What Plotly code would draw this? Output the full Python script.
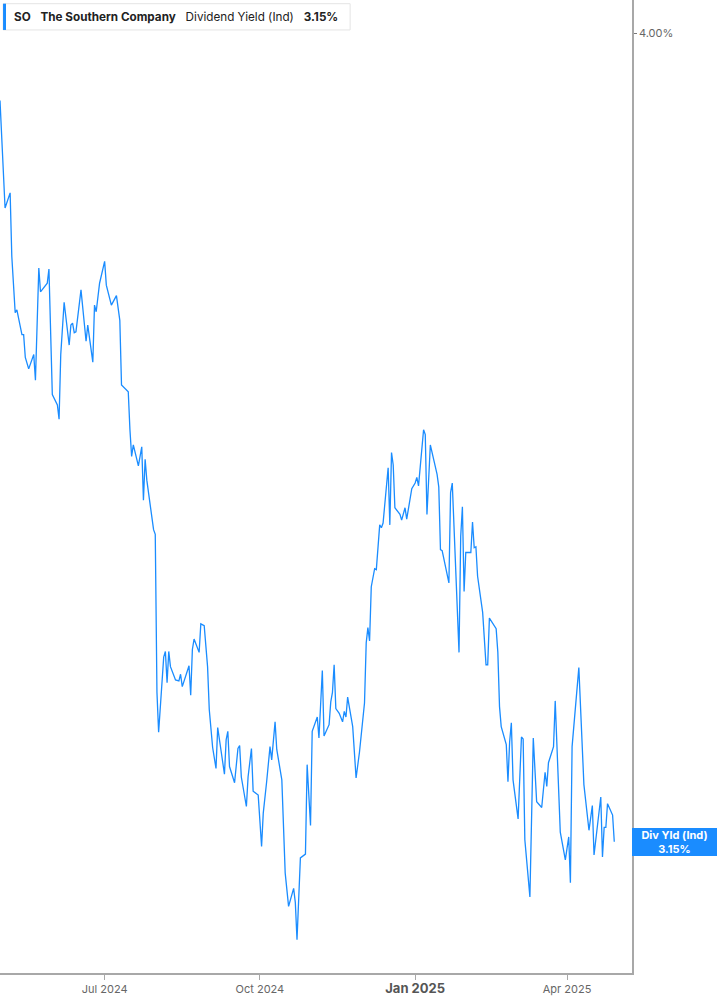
import plotly.graph_objects as go

dates = [
    "2024-04-30", "2024-05-03", "2024-05-06", "2024-05-07", "2024-05-09", "2024-05-10",
    "2024-05-13", "2024-05-14", "2024-05-15", "2024-05-17", "2024-05-20", "2024-05-21",
    "2024-05-23", "2024-05-24", "2024-05-28", "2024-05-29", "2024-05-31", "2024-06-03",
    "2024-06-04", "2024-06-05", "2024-06-07", "2024-06-10", "2024-06-11", "2024-06-12",
    "2024-06-13", "2024-06-14", "2024-06-17", "2024-06-20", "2024-06-21", "2024-06-24",
    "2024-06-25", "2024-06-26", "2024-06-28", "2024-07-01", "2024-07-02", "2024-07-05",
    "2024-07-08", "2024-07-10", "2024-07-11", "2024-07-13", "2024-07-15", "2024-07-16",
    "2024-07-17", "2024-07-18", "2024-07-21", "2024-07-23", "2024-07-24", "2024-07-25",
    "2024-07-26", "2024-07-30", "2024-07-31", "2024-08-01", "2024-08-02", "2024-08-05",
    "2024-08-06", "2024-08-07", "2024-08-08", "2024-08-09", "2024-08-12", "2024-08-14",
    "2024-08-15", "2024-08-16", "2024-08-20", "2024-08-21", "2024-08-22", "2024-08-23",
    "2024-08-26", "2024-08-27", "2024-08-29", "2024-08-31", "2024-09-01", "2024-09-03",
    "2024-09-05", "2024-09-06", "2024-09-08", "2024-09-10", "2024-09-11", "2024-09-12",
    "2024-09-13", "2024-09-16", "2024-09-18", "2024-09-19", "2024-09-20", "2024-09-23",
    "2024-09-24", "2024-09-26", "2024-09-27", "2024-09-30", "2024-10-02", "2024-10-03",
    "2024-10-05", "2024-10-07", "2024-10-08", "2024-10-10", "2024-10-11", "2024-10-14",
    "2024-10-16", "2024-10-18", "2024-10-21", "2024-10-22", "2024-10-23", "2024-10-25",
    "2024-10-28", "2024-10-29", "2024-10-31", "2024-11-01", "2024-11-04", "2024-11-05",
    "2024-11-07", "2024-11-08", "2024-11-11", "2024-11-12", "2024-11-13", "2024-11-14",
    "2024-11-15", "2024-11-17", "2024-11-19", "2024-11-20", "2024-11-21", "2024-11-22",
    "2024-11-25", "2024-11-27", "2024-11-29", "2024-12-02", "2024-12-03", "2024-12-04",
    "2024-12-05", "2024-12-06", "2024-12-08", "2024-12-09", "2024-12-11", "2024-12-12",
    "2024-12-13", "2024-12-16", "2024-12-17", "2024-12-18", "2024-12-19", "2024-12-20",
    "2024-12-23", "2024-12-24", "2024-12-26", "2024-12-27", "2024-12-30", "2025-01-01",
    "2025-01-02", "2025-01-03", "2025-01-06", "2025-01-07", "2025-01-08", "2025-01-10",
    "2025-01-14", "2025-01-15", "2025-01-16", "2025-01-17", "2025-01-21", "2025-01-22",
    "2025-01-23", "2025-01-27", "2025-01-28", "2025-01-29", "2025-01-30", "2025-01-31",
    "2025-02-03", "2025-02-04", "2025-02-05", "2025-02-06", "2025-02-07", "2025-02-10",
    "2025-02-12", "2025-02-13", "2025-02-14", "2025-02-18", "2025-02-19", "2025-02-20",
    "2025-02-21", "2025-02-24", "2025-02-25", "2025-02-26", "2025-02-27", "2025-02-28",
    "2025-03-03", "2025-03-05", "2025-03-06", "2025-03-07", "2025-03-10", "2025-03-12",
    "2025-03-14", "2025-03-17", "2025-03-19", "2025-03-20", "2025-03-21", "2025-03-24",
    "2025-03-25", "2025-03-28", "2025-03-31", "2025-04-02", "2025-04-03", "2025-04-04",
    "2025-04-08", "2025-04-11", "2025-04-14", "2025-04-16", "2025-04-17", "2025-04-21",
    "2025-04-22", "2025-04-23", "2025-04-24", "2025-04-25", "2025-04-28", "2025-04-29",
]

div_yield = [
    3.929, 3.816, 3.832, 3.765, 3.706, 3.709,
    3.683, 3.683, 3.659, 3.647, 3.662, 3.635,
    3.753, 3.728, 3.737, 3.752, 3.620, 3.609,
    3.594, 3.662, 3.717, 3.672, 3.693, 3.695,
    3.685, 3.686, 3.730, 3.676, 3.693, 3.654,
    3.714, 3.707, 3.737, 3.760, 3.735, 3.714,
    3.724, 3.698, 3.630, 3.626, 3.623, 3.583,
    3.555, 3.567, 3.545, 3.565, 3.509, 3.552,
    3.530, 3.478, 3.473, 3.307, 3.265, 3.344,
    3.350, 3.317, 3.350, 3.334, 3.320, 3.319,
    3.326, 3.313, 3.335, 3.304, 3.352, 3.363,
    3.349, 3.379, 3.377, 3.334, 3.289, 3.249,
    3.227, 3.270, 3.244, 3.221, 3.257, 3.266,
    3.229, 3.212, 3.248, 3.251, 3.218, 3.187,
    3.218, 3.248, 3.203, 3.199, 3.145, 3.180,
    3.213, 3.250, 3.236, 3.276, 3.247, 3.215,
    3.117, 3.082, 3.101, 3.086, 3.047, 3.133,
    3.137, 3.231, 3.167, 3.266, 3.281, 3.259,
    3.330, 3.261, 3.273, 3.297, 3.307, 3.336,
    3.290, 3.285, 3.276, 3.287, 3.281, 3.302,
    3.271, 3.217, 3.244, 3.296, 3.359, 3.375,
    3.361, 3.418, 3.437, 3.436, 3.483, 3.480,
    3.485, 3.543, 3.483, 3.559, 3.546, 3.501,
    3.494, 3.488, 3.501, 3.489, 3.521, 3.527,
    3.533, 3.524, 3.583, 3.578, 3.494, 3.567,
    3.536, 3.523, 3.457, 3.456, 3.422, 3.517,
    3.527, 3.349, 3.471, 3.502, 3.413, 3.454,
    3.454, 3.486, 3.459, 3.460, 3.429, 3.391,
    3.336, 3.336, 3.385, 3.374, 3.349, 3.292,
    3.271, 3.252, 3.213, 3.255, 3.275, 3.215,
    3.174, 3.260, 3.258, 3.152, 3.092, 3.259,
    3.192, 3.186, 3.223, 3.208, 3.233, 3.250,
    3.298, 3.160, 3.131, 3.155, 3.107, 3.250,
    3.333, 3.210, 3.162, 3.188, 3.136, 3.197,
    3.134, 3.165, 3.165, 3.190, 3.178, 3.150,
]

x_tick_vals = ["2024-07-01", "2024-10-01", "2025-01-01", "2025-04-01"]
x_tick_text = ["Jul 2024", "Oct 2024",
               "<span style='font-size:13px;font-weight:bold;fill:#555'>Jan 2025</span>",
               "Apr 2025"]
y_tick_vals = [4.00]
y_tick_text = ["4.00%"]

ticker = "SO"
company = "The Southern Company"
metric = "Dividend Yield (Ind)"
last_label = "Div Yld (Ind)"
last_value = div_yield[-1]

BLUE = "#1a8cff"
AXIS = "#a8a8a8"
FONT = "Inter, Roboto, sans-serif"

fig = go.Figure()
fig.add_trace(go.Scatter(
    x=dates, y=div_yield, mode="lines",
    line=dict(color=BLUE, width=1.3),
    hoverinfo="skip", showlegend=False,
))

fig.update_layout(
    width=717, height=1005,
    margin=dict(l=0, r=85, t=0, b=32),
    paper_bgcolor="white", plot_bgcolor="white",
    font=dict(family=FONT, color="#666", size=11),
    xaxis=dict(
        range=["2024-04-30", "2025-05-09 12:00"],
        tickvals=x_tick_vals, ticktext=x_tick_text,
        ticks="outside", ticklen=5, tickcolor=AXIS, tickwidth=1,
        showline=True, linecolor=AXIS, linewidth=1.5,
        showgrid=False, zeroline=False,
        tickfont=dict(size=11, color="#666", family=FONT),
    ),
    yaxis=dict(
        side="right", range=[3.012, 4.0347],
        tickvals=y_tick_vals, ticktext=y_tick_text,
        ticks="outside", ticklen=3, tickcolor="#777", tickwidth=1,
        showline=True, linecolor=AXIS, linewidth=1.5,
        showgrid=False, zeroline=False,
        tickfont=dict(size=11, color="#666", family=FONT),
    ),
)

# header box
fig.add_shape(type="rect", xref="paper", yref="paper",
              x0=0.005, x1=0.554, y0=0.9692, y1=0.9962,
              line=dict(color="#e4e4e4", width=1), fillcolor="white", layer="above")
fig.add_shape(type="rect", xref="paper", yref="paper",
              x0=0.0048, x1=0.0095, y0=0.9692, y1=0.9962,
              line=dict(width=0), fillcolor=BLUE, layer="above")
fig.add_annotation(
    xref="paper", yref="paper", x=0.019, y=0.9827, xanchor="left", yanchor="middle",
    showarrow=False,
    text=f"<b>{ticker}</b>&nbsp;&nbsp;&nbsp;<b>{company}</b>&nbsp;&nbsp;&nbsp;{metric}&nbsp;&nbsp;&nbsp;<b>{last_value:.2f}%</b>",
    font=dict(family=FONT, size=11.7, color="#222"),
)

# last value label
fig.add_annotation(
    xref="paper", yref="y", x=1, y=last_value, xanchor="left", yanchor="middle",
    showarrow=False,
    text=f"<b>{last_label}</b><br><b>{last_value:.2f}%</b>",
    font=dict(family=FONT, size=11, color="white"),
    bgcolor=BLUE, width=85, height=28, borderpad=0, borderwidth=0,
    align="center",
)

fig.write_html("out.html",
               config={"displayModeBar": False},
               post_script="document.body.style.margin='0';document.body.style.padding='0';")
